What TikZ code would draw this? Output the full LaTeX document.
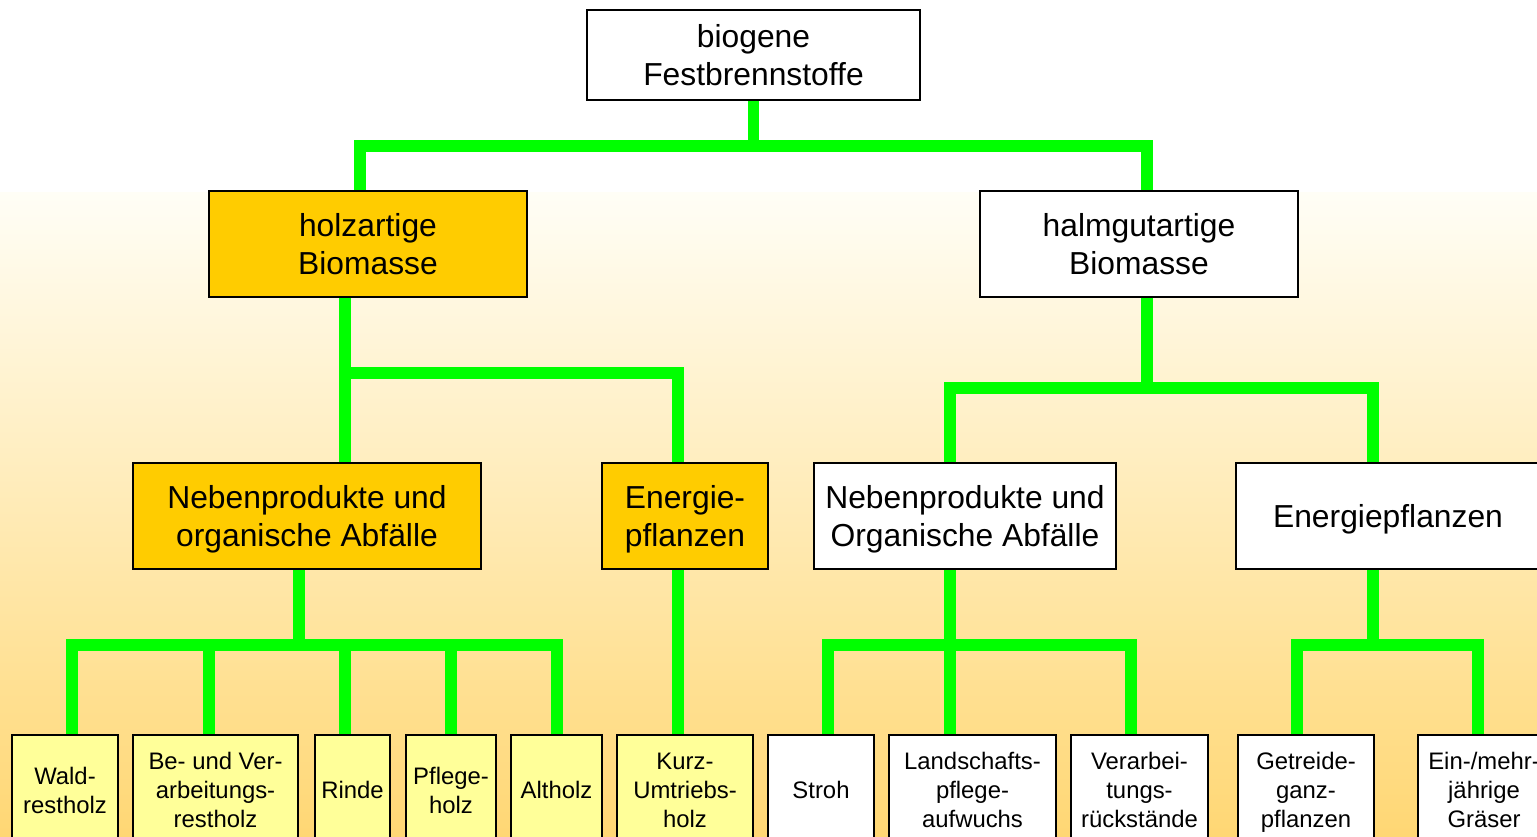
\documentclass[tikz,border=0pt]{standalone}
\usepackage{fontspec}
\setmainfont{Liberation Sans}[Ligatures={NoCommon}]
\usepackage{tikz}
\usetikzlibrary{calc}

\definecolor{holzorange}{HTML}{FFCC00}
\definecolor{leafyellow}{HTML}{FFFF99}
\definecolor{linkgreen}{HTML}{00FF00}
\definecolor{bgtop}{HTML}{FFFEF6}
\definecolor{bgbottom}{HTML}{FFD774}

\pgfdeclarelayer{bg}
\pgfsetlayers{bg,main}

\tikzset{
  box/.style={draw=black, line width=1.2pt, fill=white, inner sep=0pt, align=center,
    text depth=0pt, minimum height=79.5pt, font=\fontsize{23.85}{29.2}\selectfont},
  leaf/.style={box, minimum height=82.5pt, font=\fontsize{17.9}{21.6}\selectfont},
  link/.style={draw=linkgreen, line width=8.6pt},
}

\begin{document}
\begin{tikzpicture}[x=0.75pt,y=0.75pt,yscale=-1,xscale=1]
\clip (0,0) rectangle (1537,836);

% Top
\node [box, minimum width=249.75pt, minimum height=67.5pt] (top) at (753.5,55) {biogene\\Festbrennstoffe};

% Second row
\node [box, fill=holzorange, minimum width=238.5pt] (holz) at (368,244) {holzartige\\Biomasse};
\node [box, minimum width=238.5pt] (halm) at (1139,244) {halmgutartige\\Biomasse};

% Third row
\node [box, fill=holzorange, minimum width=261pt] (nebH) at (307,516) {Nebenprodukte und\\organische Abfälle};
\node [box, fill=holzorange, minimum width=124.5pt] (engH) at (685,516) {Energie-\\pflanzen};
\node [box, minimum width=226.5pt] (nebM) at (965,516) {Nebenprodukte und\\Organische Abfälle};
\node [box, minimum width=228pt] (engM) at (1388,516) {Energiepflanzen};

% Leaves
\node [leaf, fill=leafyellow, minimum width=79.5pt] (wald) at (65,790) {Wald-\\restholz};
\node [leaf, fill=leafyellow, minimum width=123.75pt] (bev) at (215.5,790) {Be- und Ver-\\arbeitungs-\\restholz};
\node [leaf, fill=leafyellow, minimum width=56.25pt] (rinde) at (352.5,790) {Rinde};
\node [leaf, fill=leafyellow, minimum width=67.5pt] (pflege) at (451,790) {Pflege-\\holz};
\node [leaf, fill=leafyellow, minimum width=68.25pt] (alt) at (556.5,790) {Altholz};
\node [leaf, fill=leafyellow, minimum width=102pt] (kurz) at (685,790) {Kurz-\\Umtriebs-\\holz};
\node [leaf, minimum width=79.5pt] (stroh) at (821,790) {Stroh};
\node [leaf, minimum width=125.25pt] (land) at (972.5,790) {Landschafts-\\pflege-\\aufwuchs};
\node [leaf, minimum width=102.75pt] (verarb) at (1139.5,790) {Verarbei-\\tungs-\\rückstände};
\node [leaf, minimum width=102pt] (getr) at (1306,790) {Getreide-\\ganz-\\pflanzen};
\node [leaf, minimum width=99pt] (ein) at (1484,790) {Ein-/mehr-\\jährige\\Gräser};

\begin{pgfonlayer}{bg}
% Background
\fill [white] (0,0) rectangle (1537,192);
\shade [top color=bgtop, bottom color=bgbottom] (0,192) rectangle (1537,836);

% Links
\draw [link] (top.south) -- ($(top.south)+(0,45)$);
\draw [link] ($(holz.north)+(-8,0)$) |- ($(top.south)+(0,45)$) -| ($(halm.north)+(8,0)$);

\draw [link] ($(nebH.north)+(38,0)$) -- ($(holz.south)+(-23,0)$);
\draw [link] ($(holz.south)+(-23,75)$) -| ($(engH.north)+(-7,0)$);

\draw [link] ($(halm.south)+(8,0)$) -- ($(halm.south)+(8,90)$);
\draw [link] ($(nebM.north)+(-15,0)$) |- ($(halm.south)+(8,90)$) -| ($(engM.north)+(-15,0)$);

\draw [link] ($(nebH.south)+(-8,0)$) -- ($(nebH.south)+(-8,75)$);
\draw [link] ($(wald.north)+(7,0)$) |- ($(nebH.south)+(-8,75)$) -| ($(alt.north)+(0.5,0)$);
\foreach \c/\dx in {bev/-6.5, rinde/-7.5, pflege/0}
  \draw [link] ($(\c.north)+(\dx,0)$) -- ++(0,-91);

\draw [link] ($(engH.south)+(-7,0)$) -- ($(kurz.north)+(-7,0)$);

\draw [link] ($(nebM.south)+(-15,0)$) -- ($(land.north)+(-22.5,0)$);
\draw [link] ($(stroh.north)+(7,0)$) |- ($(nebM.south)+(-15,75)$) -| ($(verarb.north)+(-8.5,0)$);

\draw [link] ($(engM.south)+(-15,0)$) -- ($(engM.south)+(-15,75)$);
\draw [link] ($(getr.north)+(-9,0)$) |- ($(engM.south)+(-15,75)$) -| ($(ein.north)+(-6,0)$);
\end{pgfonlayer}

\end{tikzpicture}
\end{document}
